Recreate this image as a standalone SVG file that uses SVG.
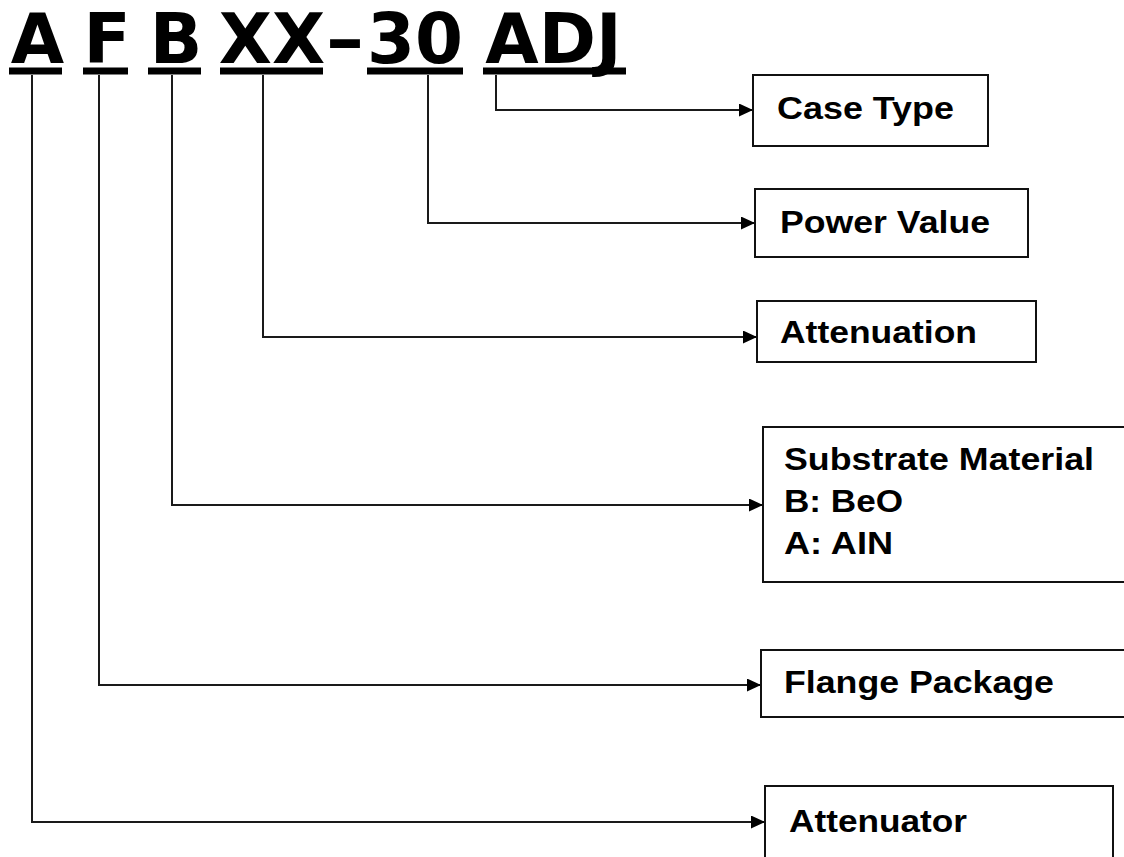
<svg xmlns="http://www.w3.org/2000/svg" width="1124" height="857" viewBox="0 0 1124 857">
<style>
.title{font-family:"DejaVu Sans",Verdana,sans-serif;font-weight:bold;font-size:69px;fill:#000}
.ul{fill:#000}
.box{fill:#fff;stroke:#111;stroke-width:2}
.lbl{font-family:"Liberation Sans",Arial,sans-serif;font-weight:bold;font-size:31px;fill:#000}
.conn{fill:none;stroke:#1a1a1a;stroke-width:2}
</style>
<defs>
<marker id="arr" viewBox="0 0 14 13" refX="14" refY="6.5" markerWidth="14" markerHeight="13" markerUnits="userSpaceOnUse" orient="auto">
<path d="M0,0 L14,6.5 L0,13 Z" fill="#000"/>
</marker>
</defs>
<rect width="1124" height="857" fill="#fff"/>
<g id="title">
<text class="title" x="37.5" y="63" text-anchor="middle">A</text>
<text class="title" x="107" y="63" text-anchor="middle">F</text>
<text class="title" x="176" y="63" text-anchor="middle">B</text>
<text class="title" x="272" y="63" text-anchor="middle">XX</text>
<text class="title" x="326" y="63" textLength="38" lengthAdjust="spacingAndGlyphs">–</text>
<text class="title" x="415" y="63" text-anchor="middle">30</text>
<text class="title" x="553.5" y="63" text-anchor="middle">ADJ</text>
<rect class="ul" x="9" y="67.5" width="53" height="7"/>
<rect class="ul" x="83" y="67.5" width="45" height="7"/>
<rect class="ul" x="148" y="67.5" width="53" height="7"/>
<rect class="ul" x="220" y="67.5" width="103" height="7"/>
<rect class="ul" x="367" y="67.5" width="96" height="7"/>
<rect class="ul" x="483" y="67.5" width="143" height="7"/>
</g>
<g id="connectors">
<polyline class="conn" points="496,75 496,110 753,110" marker-end="url(#arr)"/>
<polyline class="conn" points="428,75 428,223 755,223" marker-end="url(#arr)"/>
<polyline class="conn" points="263,75 263,337 757,337" marker-end="url(#arr)"/>
<polyline class="conn" points="172,75 172,505 763,505" marker-end="url(#arr)"/>
<polyline class="conn" points="99,75 99,685 761,685" marker-end="url(#arr)"/>
<polyline class="conn" points="32,75 32,822 765,822" marker-end="url(#arr)"/>
</g>
<g id="case-type">
<rect class="box" x="753" y="75" width="235" height="71"/>
<text class="lbl" x="777" y="119" textLength="177" lengthAdjust="spacingAndGlyphs">Case Type</text>
</g>
<g id="power-value">
<rect class="box" x="755" y="189" width="273" height="68"/>
<text class="lbl" x="780" y="233" textLength="210" lengthAdjust="spacingAndGlyphs">Power Value</text>
</g>
<g id="attenuation">
<rect class="box" x="757" y="301" width="279" height="61"/>
<text class="lbl" x="780" y="343" textLength="197" lengthAdjust="spacingAndGlyphs">Attenuation</text>
</g>
<g id="substrate">
<rect class="box" x="763" y="427" width="370" height="155"/>
<text class="lbl" x="784" y="470" textLength="310" lengthAdjust="spacingAndGlyphs">Substrate Material</text>
<text class="lbl" x="784" y="512" textLength="119" lengthAdjust="spacingAndGlyphs">B: BeO</text>
<text class="lbl" x="784" y="554" textLength="109" lengthAdjust="spacingAndGlyphs">A: AIN</text>
</g>
<g id="flange">
<rect class="box" x="761" y="650" width="372" height="67"/>
<text class="lbl" x="784" y="693" textLength="270" lengthAdjust="spacingAndGlyphs">Flange Package</text>
</g>
<g id="attenuator">
<rect class="box" x="765" y="786" width="348" height="90"/>
<text class="lbl" x="789" y="832" textLength="178" lengthAdjust="spacingAndGlyphs">Attenuator</text>
</g>
</svg>
